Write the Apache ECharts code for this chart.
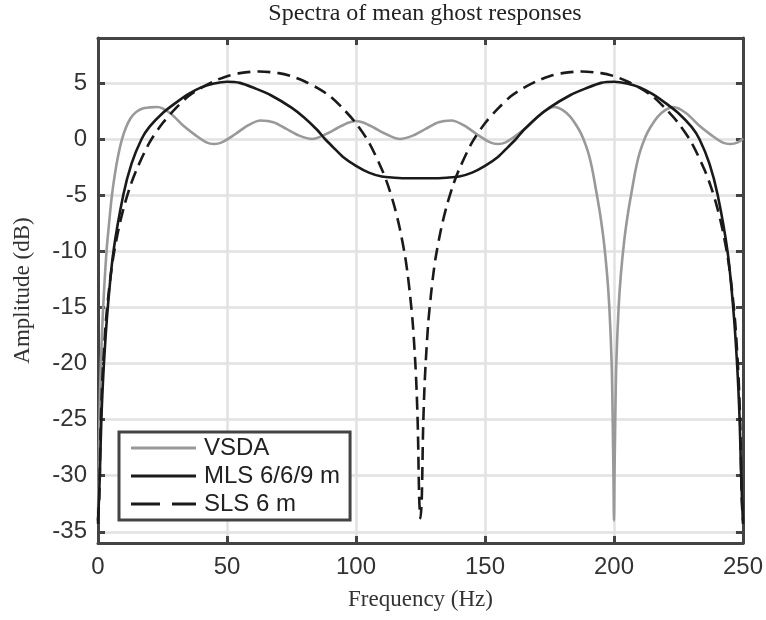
<!DOCTYPE html>
<html><head><meta charset="utf-8">
<script src="https://cdn.jsdelivr.net/npm/echarts@6/dist/echarts.min.js"></script>
<style>html,body{margin:0;padding:0;background:#fff}#c{width:766px;height:620px}</style>
</head><body><div id="c"></div>
<script>
const title = 'Spectra of mean ghost responses';
const xName = 'Frequency (Hz)';
const yName = 'Amplitude (dB)';
const xTicks = [0, 50, 100, 150, 200, 250];
const yTicks = [-35, -30, -25, -20, -15, -10, -5, 0, 5];
const seriesNames = ['VSDA', 'MLS 6/6/9 m', 'SLS 6 m'];

const vsdaF = [0,0.25,0.55,1.1,2,3.3,4.3,5.3,6.5,7.8,9.2,10.8,12.5,14.5,17,20,23,28,33,38,42,45,48,53,58,63,68,73,78,83,88,93,97,100,103,107,112,117,122,127,132,137,142,147,152,155,158,162,167,172,177,180,183,186,188,190,191.5,193,194.5,196,197.3,198.2,199.1,199.5,199.8,200,200.2,200.5,200.9,201.8,202.7,204,205.5,207,208.5,210,212,214,217,220,223,228,233,238,242,245,248,250];
const vsdaA = [-34,-30,-25,-20,-15,-10,-7.5,-5.2,-3.2,-1.5,-0.1,1.0,1.8,2.35,2.7,2.82,2.85,2.3,1.2,0.3,-0.3,-0.45,-0.3,0.4,1.2,1.65,1.5,0.9,0.3,0,0.4,1.0,1.45,1.6,1.45,1.0,0.4,0,0.3,0.9,1.5,1.65,1.2,0.4,-0.3,-0.45,-0.3,0.3,1.2,2.3,2.85,2.6,2.0,1.0,0.1,-1.2,-2.6,-4.5,-6.5,-9,-12,-15,-20,-25,-30,-34,-30,-25,-20,-15,-12,-9,-6.5,-4.5,-2.6,-1.2,0.1,1.0,2.0,2.6,2.85,2.3,1.2,0.3,-0.3,-0.45,-0.3,0.05];

const mlsF = [0,0.7,1.3,2.3,3.8,6,9.8,13,16.9,20,25,30,35,40,45,50,55,61,67,75,80,85,88,91,95,100,105,110,115,120,125,130,135,140,145,150,155,159,162,165,170,175,183,189,195,200,205,210,215,220,225,230,233.1,237,240.2,244,246.2,247.7,248.7,249.3,250];
const mlsA = [-34.3,-30,-25,-20,-15,-10,-5,-2.2,0,1.1,2.3,3.2,4.0,4.6,4.95,5.1,5.0,4.5,3.9,2.8,1.9,0.8,0,-0.7,-1.6,-2.4,-3.0,-3.35,-3.45,-3.5,-3.5,-3.5,-3.45,-3.35,-3.0,-2.4,-1.6,-0.7,0,0.8,1.9,2.8,3.9,4.5,5.0,5.1,4.95,4.6,4.0,3.2,2.3,1.1,0,-2.2,-5,-10,-15,-20,-25,-30,-34.3];

const slsF = [0,0.5,1,1.5,2,3,4,5,6,8,10,12.5,15,20,25,30,35,40,45,50,55,62.5,70,75,80,85,90,95,100,105,110,112.5,115,117,119,120,121,122,123,123.5,124,124.5,125,125.5,126,126.5,127,128,129,130,131,133,135,137.5,140,145,150,155,160,165,170,175,180,187.5,195,200,205,210,215,220,225,230,235,237.5,240,242,244,245,246,247,248,248.5,249,249.5,250];
const slsA = [-34,-32,-26,-22.4,-20,-16.4,-14,-12,-10.4,-8,-6.1,-4.2,-2.7,-0.3,1.4,2.7,3.8,4.55,5.15,5.6,5.87,6.02,5.87,5.6,5.15,4.55,3.8,2.7,1.4,-0.3,-2.7,-4.2,-6.1,-8,-10.4,-12,-14,-16.4,-20,-22.4,-26,-32,-33.8,-32,-26,-22.4,-20,-16.4,-14,-12,-10.4,-8,-6.1,-4.2,-2.7,-0.3,1.4,2.7,3.8,4.55,5.15,5.6,5.87,6.02,5.87,5.6,5.15,4.55,3.8,2.7,1.4,-0.3,-2.7,-4.2,-6.1,-8,-10.4,-12,-14,-16.4,-20,-22.4,-26,-32,-34];

function pairs(f, a) { return f.map((v, i) => [v, a[i]]); }

const chart = echarts.init(document.getElementById('c'), null, {renderer: 'canvas'});
const axisCol = '#444';
const gridCol = '#e2e2e2';
const sans = 'Liberation Sans, Arial, Helvetica, sans-serif';
const serif = 'Liberation Serif, DejaVu Serif, serif';
const solidIcon = 'path://M0,0H65V3H0Z';
const dashIcon = 'path://M0,0H29V3H0Z M41,0H65V3H41Z';

const lineW = 2.6;
chart.setOption({
  backgroundColor: '#fff',
  animation: false,
  title: {text: title, left: 420, top: -3, textAlign: 'center',
    textStyle: {fontFamily: serif, fontSize: 24, fontWeight: 'normal', color: '#222'}},
  grid: {left: 98, right: 23, top: 38, bottom: 77, containLabel: false, show: false},
  legend: {
    orient: 'vertical', left: 119, top: 432,
    data: [
      {name: seriesNames[0], icon: solidIcon},
      {name: seriesNames[1], icon: solidIcon},
      {name: seriesNames[2], icon: dashIcon}
    ],
    itemWidth: 65, itemHeight: 3, itemGap: 4,
    padding: [4, 10, 4, 12],
    backgroundColor: '#fff', borderColor: axisCol, borderWidth: 3,
    textStyle: {fontFamily: sans, fontSize: 24, color: '#222', lineHeight: 24, padding: [0, 0, 0, 3]}
  },
  xAxis: [{
    type: 'value', min: 0, max: 250, interval: 50, position: 'bottom',
    name: xName, nameLocation: 'middle', nameGap: 45,
    nameTextStyle: {fontFamily: serif, fontSize: 23, color: '#333'},
    axisLine: {show: true, onZero: false, lineStyle: {color: axisCol, width: 3}},
    axisTick: {show: true, inside: true, length: 7, lineStyle: {color: axisCol, width: 3}},
    axisLabel: {fontFamily: sans, fontSize: 24, color: '#333', margin: 12},
    splitLine: {show: true, lineStyle: {color: gridCol, width: 2.5}}
  }, {
    type: 'value', min: 0, max: 250, interval: 50, position: 'top',
    axisLine: {show: true, onZero: false, lineStyle: {color: axisCol, width: 3}},
    axisTick: {show: true, inside: true, length: 7, lineStyle: {color: axisCol, width: 3}},
    axisLabel: {show: false}, splitLine: {show: false}
  }],
  yAxis: [{
    type: 'value', min: -36, max: 9, position: 'left',
    name: yName, nameLocation: 'middle', nameGap: 64,
    nameTextStyle: {fontFamily: serif, fontSize: 23, color: '#333'},
    axisLine: {show: true, onZero: false, lineStyle: {color: axisCol, width: 3}},
    axisTick: {show: true, inside: true, length: 7, customValues: yTicks, lineStyle: {color: axisCol, width: 3}},
    axisLabel: {fontFamily: sans, fontSize: 24, color: '#333', margin: 11, customValues: yTicks},
    splitLine: {show: true, lineStyle: {color: gridCol, width: 2.5}}
  }, {
    type: 'value', min: -36, max: 9, position: 'right',
    axisLine: {show: true, onZero: false, lineStyle: {color: axisCol, width: 3}},
    axisTick: {show: true, inside: true, length: 7, customValues: yTicks, lineStyle: {color: axisCol, width: 3}},
    axisLabel: {show: false}, splitLine: {show: false}
  }],
  series: [
    {name: seriesNames[0], type: 'line', data: pairs(vsdaF, vsdaA), showSymbol: false, symbol: 'none',
      smooth: 0.3, lineStyle: {color: '#999', width: lineW}, itemStyle: {color: '#999'}, z: 2},
    {name: seriesNames[1], type: 'line', data: pairs(mlsF, mlsA), showSymbol: false, symbol: 'none',
      smooth: 0.3, lineStyle: {color: '#1a1a1a', width: lineW}, itemStyle: {color: '#1a1a1a'}, z: 3},
    {name: seriesNames[2], type: 'line', data: pairs(slsF, slsA), showSymbol: false, symbol: 'none',
      smooth: 0.3, lineStyle: {color: '#1a1a1a', width: lineW, type: [13, 7]}, itemStyle: {color: '#1a1a1a'}, z: 4}
  ]
});
</script></body></html>
